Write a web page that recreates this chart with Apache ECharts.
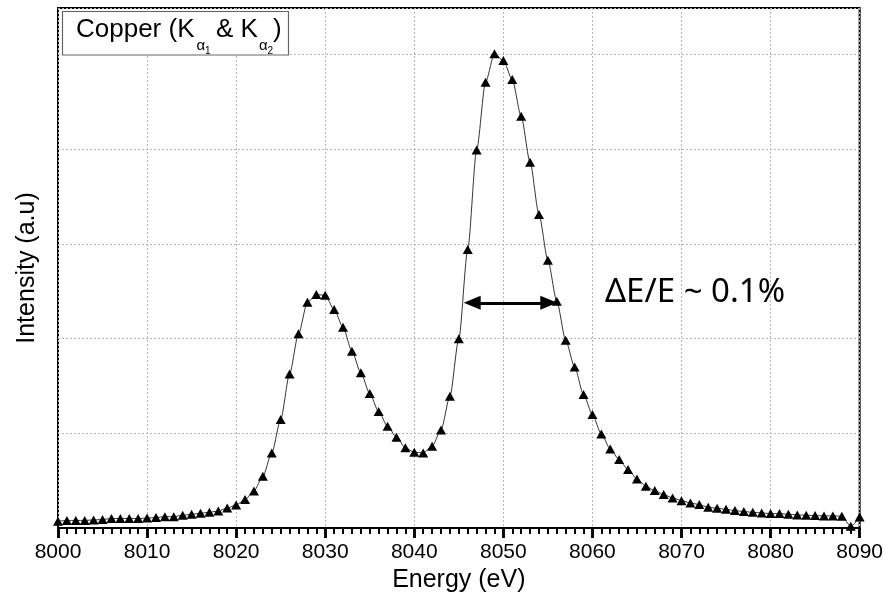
<!DOCTYPE html>
<html>
<head>
<meta charset="utf-8">
<script src="https://cdn.jsdelivr.net/npm/echarts@6/dist/echarts.min.js"></script>
<style>
html,body{margin:0;padding:0;background:#fff;}
#chart{width:886px;height:598px;}
</style>
</head>
<body>
<div id="chart"></div>
<script>
// Energy (eV) sampling points
var energies = [
  8000,8001,8002,8003,8004,8005,8006,8007,8008,8009,
  8010,8011,8012,8013,8014,8015,8016,8017,8018,8019,
  8020,8021,8022,8023,8024,8025,8026,8027,8028,8029,
  8030,8031,8032,8033,8034,8035,8036,8037,8038,8039,
  8040,8041,8042,8043,8044,8045,8046,8047,8048,8049,
  8050,8051,8052,8053,8054,8055,8056,8057,8058,8059,
  8060,8061,8062,8063,8064,8065,8066,8067,8068,8069,
  8070,8071,8072,8073,8074,8075,8076,8077,8078,8079,
  8080,8081,8082,8083,8084,8085,8086,8087,8088,8089,
  8090
];
// Intensity (a.u.)
var intensity = [
  0.07,0.08,0.08,0.08,0.085,0.09,0.10,0.10,0.10,0.10,
  0.105,0.11,0.12,0.12,0.134,0.145,0.155,0.166,0.18,0.21,
  0.244,0.30,0.39,0.546,0.793,1.145,1.627,2.05,2.383,2.465,
  2.457,2.306,2.12,1.866,1.638,1.419,1.229,1.074,0.958,0.846,
  0.80,0.793,0.863,1.035,1.39,1.997,2.94,3.99,4.707,5.006,
  4.935,4.735,4.347,3.862,3.31,2.826,2.394,1.982,1.70,1.409,
  1.197,0.993,0.835,0.722,0.617,0.518,0.44,0.395,0.353,0.318,
  0.289,0.265,0.247,0.219,0.208,0.197,0.184,0.173,0.166,0.159,
  0.152,0.152,0.145,0.138,0.135,0.131,0.128,0.128,0.124,0.018,
  0.117
];
// FWHM arrow (energy start, energy end, intensity level)
var fwhmArrowEnergy = [8046.5, 8055.1];
var fwhmArrowLevel = 2.377;
var xTickMin = 8000, xTickMax = 8090, xTickStep = 10;
var yMin = 0, yMax = 5.49, yStep = 1;
var legendMain = 'Copper (K';
var annotationText = '\u0394E/E ~ 0.1%';

var seriesData = energies.map(function (e, i) { return [e, intensity[i]]; });

var FONT = '"Liberation Sans", Arial, sans-serif';
var chart = echarts.init(document.getElementById('chart'));

function txt(x, y, text, size, family) {
  return {type: 'text', x: x, y: y, z: 11, style: {text: text, font: size + 'px ' + (family || FONT), fill: '#000',
    align: 'left', verticalAlign: 'middle', textAlign: 'left', textVerticalAlign: 'middle'}};
}

chart.setOption({
  animation: false,
  backgroundColor: '#fff',
  grid: {left: 58, right: 24, top: 8, bottom: 70, show: true, borderColor: '#000', borderWidth: 2},
  xAxis: [{
    type: 'value', min: xTickMin, max: xTickMax, interval: xTickStep,
    name: 'Energy (eV)', nameLocation: 'middle', nameGap: 40,
    nameTextStyle: {fontFamily: FONT, fontSize: 25, color: '#000'},
    axisLine: {show: true, onZero: false, lineStyle: {color: '#000', width: 2}},
    axisTick: {show: true, length: 10, lineStyle: {color: '#000', width: 2.5}},
    minorTick: {show: true, splitNumber: 10, length: 6, lineStyle: {color: '#000', width: 2}},
    axisLabel: {fontFamily: FONT, fontSize: 21, color: '#000', margin: 14,
      formatter: function (v) { return String(v); }},
    splitLine: {show: true, lineStyle: {color: '#b5b5b5', width: 1, type: [2, 2]}}
  }, {
    // overlay axis used only to draw the major/minor tick comb below the plot
    type: 'value', min: xTickMin, max: xTickMax, interval: xTickStep, position: 'bottom', offset: 0,
    axisLine: {show: false, onZero: false},
    axisTick: {show: true, inside: false, length: 10, lineStyle: {color: '#000', width: 2.5}},
    minorTick: {show: true, splitNumber: 10, length: 6, lineStyle: {color: '#000', width: 2}},
    axisLabel: {show: false},
    splitLine: {show: false}
  }],
  yAxis: {
    type: 'value', min: yMin, max: yMax, interval: yStep,
    name: 'Intensity (a.u)', nameLocation: 'middle', nameGap: 18,
    nameTextStyle: {fontFamily: FONT, fontSize: 25, color: '#000'},
    axisLine: {show: false},
    axisTick: {show: false},
    axisLabel: {show: false},
    splitLine: {show: true, lineStyle: {color: '#b5b5b5', width: 1, type: [2, 2]}}
  },
  series: [{
    name: 'Copper',
    type: 'line',
    xAxisIndex: 0,
    data: seriesData,
    smooth: 0.25,
    smoothMonotone: 'x',
    symbol: 'triangle',
    symbolSize: [10, 9],
    itemStyle: {color: '#000'},
    lineStyle: {color: '#333', width: 1},
    markLine: {
      silent: true,
      symbol: ['triangle', 'triangle'],
      symbolSize: [14, 17],
      lineStyle: {color: '#000', width: 3, type: 'solid'},
      label: {show: false},
      data: [[{coord: [fwhmArrowEnergy[0], fwhmArrowLevel]}, {coord: [fwhmArrowEnergy[1], fwhmArrowLevel]}]]
    }
  }],
  graphic: [
    {type: 'rect', shape: {x: 62.5, y: 11.5, width: 226, height: 43.5}, style: {fill: '#fff', stroke: '#666', lineWidth: 1.2}, z: 10},
    txt(76, 29.5, legendMain, 26),
    txt(196.5, 46, '\u03b1', 15),
    txt(205, 51.5, '1', 10),
    txt(216, 29.5, '& K', 26),
    txt(259, 46, '\u03b1', 15),
    txt(267.5, 51.5, '2', 10),
    txt(273, 29.5, ')', 26),
    txt(605, 293, annotationText, 33, '"Noto Sans", sans-serif')
  ]
});
</script>
</body>
</html>
